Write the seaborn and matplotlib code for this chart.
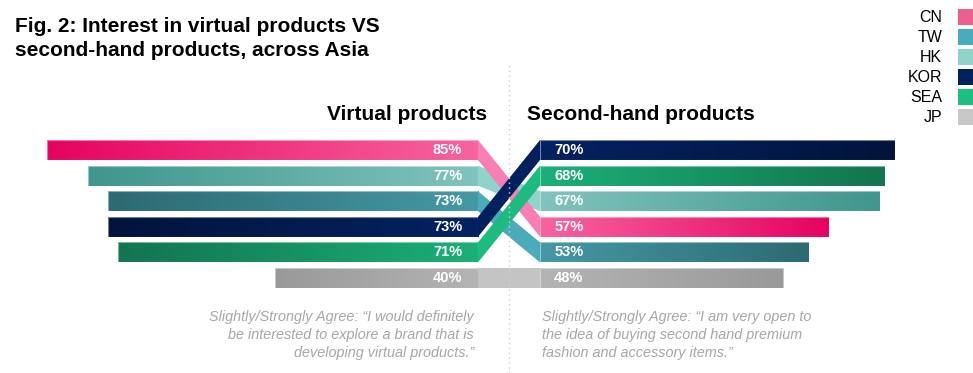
import numpy as np
import pandas as pd
import matplotlib
matplotlib.use('Agg')
import matplotlib.pyplot as plt
from matplotlib.colors import to_rgb
from matplotlib.patches import Polygon, Rectangle
import seaborn as sns

# ---------------------------------------------- DATA ----------------------------------------------
countries = ['CN', 'TW', 'HK', 'KOR', 'SEA', 'JP']
virtual = [85, 73, 77, 73, 71, 40]
second_hand = [57, 53, 67, 70, 68, 48]

legend_colors = ['#ed5f8f', '#4aabbb', '#8fd3cb', '#03205e', '#1dbf80', '#c8c8c8']
ribbon_colors = ['#f77fb5', '#4aabbb', '#8fd3cb', '#03205e', '#1dbb7f', '#c4c4c4']
inner_colors = ['#f8649f', '#4599a5', '#80c4bd', '#042262', '#1bb077', '#b4b4b4']
outer_colors = ['#e6035f', '#2d6a72', '#3f968c', '#02143c', '#127450', '#999999']
ribbon_draw_order = ['JP', 'HK', 'TW', 'CN', 'SEA', 'KOR']

title_lines = ['Fig. 2: Interest in virtual products VS', 'second-hand products, across Asia']
left_header = 'Virtual products'
right_header = 'Second-hand products'
left_note = ('Slightly/Strongly Agree: \u201cI would definitely\n'
             'be interested to explore a brand that is\n'
             'developing virtual products.\u201d')
right_note = ('Slightly/Strongly Agree: \u201cI am very open to\n'
              'the idea of buying second hand premium\n'
              'fashion and accessory items.\u201d')

# ---------------------------------------------- SETUP ----------------------------------------------
sns.set_style('white')
plt.rcParams['font.family'] = ['Liberation Sans', 'DejaVu Sans']

W, H = 973, 373
PX_PER_PCT = 5.07
ROW0, ROW_STEP = 150, 25.6
BAR_H = 0.78

df = pd.DataFrame({'country': countries, 'virtual': virtual, 'second_hand': second_hand})
left_order = df.sort_values('virtual', ascending=False, kind='stable')['country'].tolist()
right_order = df.sort_values('second_hand', ascending=False, kind='stable')['country'].tolist()
idx = {c: i for i, c in enumerate(countries)}
palette = dict(zip(countries, legend_colors))

fig = plt.figure(figsize=(W / 100, H / 100), dpi=100)
ax_l = fig.add_axes([0, 0, 478 / W, 1])
ax_m = fig.add_axes([478 / W, 0, 62 / W, 1])
ax_r = fig.add_axes([540 / W, 0, 433 / W, 1])


def paint(ax, patch, c_in, c_out):
    w, y, h = patch.get_width(), patch.get_y(), patch.get_height()
    t = np.linspace(0, 1, 256)[None, :, None]
    img = (1 - t) * np.array(to_rgb(c_in)) + t * np.array(to_rgb(c_out))
    im = ax.imshow(img, extent=(0, w, y + h, y), aspect='auto', zorder=1,
                   interpolation='bilinear')
    im.set_clip_path(patch)
    patch.set_facecolor('none')
    patch.set_edgecolor((1, 1, 1, 0.45))
    patch.set_linewidth(0.8)
    patch.set_zorder(2)


for ax, col, order, lab_x in [(ax_l, 'virtual', left_order, 6.0),
                              (ax_r, 'second_hand', right_order, 5.7)]:
    sns.barplot(data=df, x=col, y='country', hue='country', order=order,
                palette=palette, width=BAR_H, saturation=1, legend=False, ax=ax)
    for p in list(ax.patches):
        c = order[int(round(p.get_y() + p.get_height() / 2))]
        paint(ax, p, inner_colors[idx[c]], outer_colors[idx[c]])
    for i, c in enumerate(order):
        ax.text(lab_x, i, f"{df.loc[idx[c], col]}%", ha='center', va='center',
                color='white', fontweight='bold', fontsize=10.5, zorder=3)

# ribbons linking each country's two bars
for c in ribbon_draw_order:
    yl, yr = left_order.index(c), right_order.index(c)
    ax_m.add_patch(Polygon([(0, yl - BAR_H / 2), (1, yr - BAR_H / 2),
                            (1, yr + BAR_H / 2), (0, yl + BAR_H / 2)],
                           closed=True, facecolor=ribbon_colors[idx[c]],
                           edgecolor='none', zorder=1))
ax_m.axvline(0.5, 0, 1 - 62 / H, color='#cfcfcf', lw=1, ls=(0, (1, 2.5)), zorder=5)

ylim = ((H - ROW0) / ROW_STEP, -ROW0 / ROW_STEP)
ax_l.set_xlim(478 / PX_PER_PCT, 0)
ax_r.set_xlim(0, 433 / PX_PER_PCT)
ax_m.set_xlim(0, 1)
for ax in (ax_l, ax_m, ax_r):
    ax.set_ylim(*ylim)
    ax.axis('off')

# ---------------------------------------------- TEXT ----------------------------------------------
for i, line in enumerate(title_lines):
    fig.text(15 / W, 1 - (32 + i * 24) / H, line, ha='left', va='baseline',
             fontsize=15, fontweight='bold', color='black')
fig.text(487 / W, 1 - 120 / H, left_header, ha='right', va='baseline',
         fontsize=15, fontweight='bold', color='black')
fig.text(527 / W, 1 - 120 / H, right_header, ha='left', va='baseline',
         fontsize=15, fontweight='bold', color='black')
fig.text(474 / W, 1 - 310 / H, left_note, ha='right', va='top', fontsize=10.4,
         style='italic', color='#a6a6a6', linespacing=1.36, multialignment='right')
fig.text(542 / W, 1 - 310 / H, right_note, ha='left', va='top', fontsize=10.4,
         style='italic', color='#a6a6a6', linespacing=1.36)

for i, (c, col) in enumerate(zip(countries, legend_colors)):
    yc = 17 + i * 20
    fig.text(942 / W, 1 - yc / H, c, ha='right', va='center', fontsize=11.5, color='black')
    fig.add_artist(Rectangle((958 / W, 1 - (yc + 7.5) / H), 16 / W, 15 / H,
                             transform=fig.transFigure, facecolor=col, edgecolor='none'))

fig.savefig('out.png', dpi=100)
